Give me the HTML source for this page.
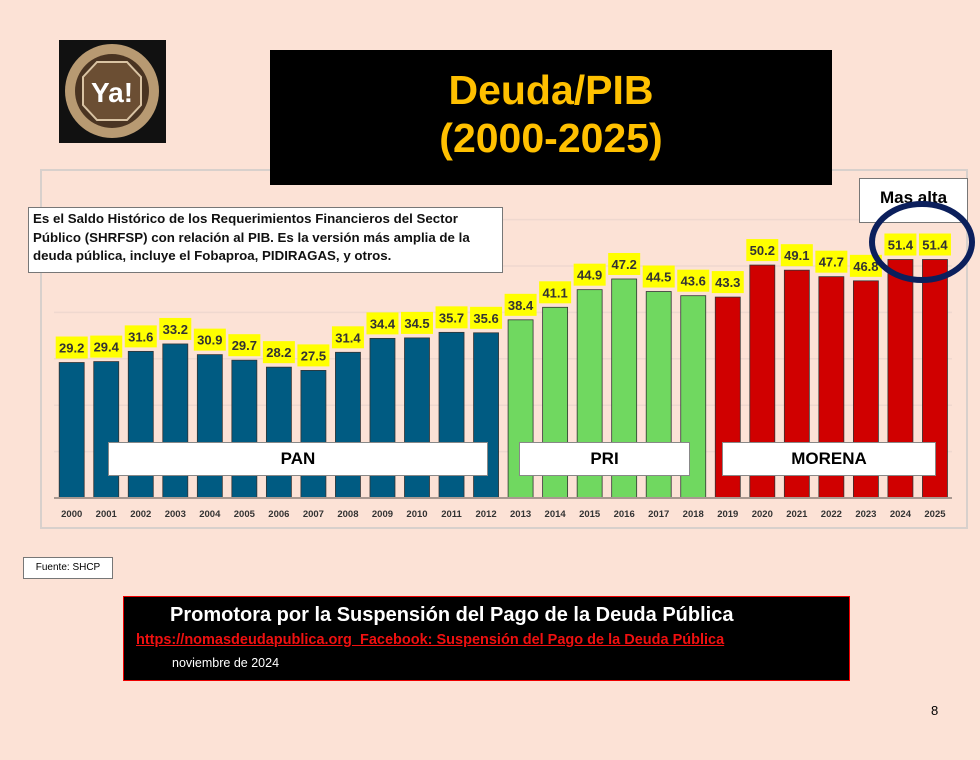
<!DOCTYPE html>
<html><head><meta charset="utf-8"><style>
body{margin:0;width:980px;height:760px;background:#fce2d6;position:relative;overflow:hidden;font-family:"Liberation Sans",sans-serif}
.abs{position:absolute}
</style></head><body>
<svg class="abs" style="left:0;top:0" width="980" height="760" id="chart"></svg>
<div class="abs" style="left:59px;top:40px;width:107px;height:103px;background:#111">
<svg width="107" height="103"><circle cx="53" cy="51" r="47" fill="#b89a72"/><circle cx="53" cy="51" r="37" fill="#4a3422"/><polygon points="38,22 68,22 82,37 82,65 68,80 38,80 24,65 24,37" fill="#6b4e33" stroke="#d9c3a3" stroke-width="2"/><text x="53" y="62" font-size="28" font-weight="bold" fill="#fff" text-anchor="middle" font-family="Liberation Sans">Ya!</text></svg></div>
<div class="abs" style="left:270px;top:50px;width:562px;height:135px;background:#000;color:#ffc000;font-weight:bold;font-size:41px;text-align:center;line-height:48px;padding-top:16px;box-sizing:border-box">Deuda/PIB<br>(2000-2025)</div>
<div class="abs" style="left:28px;top:207px;width:475px;height:66px;background:#fff;border:1px solid #777;box-sizing:border-box;font-size:13.3px;font-weight:bold;line-height:18.5px;padding:2px 4px;color:#111">Es el Saldo Histórico de los Requerimientos Financieros del Sector Público (SHRFSP) con relación al PIB. Es la versión más amplia de la deuda pública, incluye el Fobaproa, PIDIRAGAS, y otros.</div>
<div class="abs" style="left:859px;top:178px;width:109px;height:45px;background:#fff;border:1px solid #777;box-sizing:border-box;font-size:17px;font-weight:bold;text-align:center;padding-top:9px">Mas alta</div>
<svg class="abs" style="left:0;top:0" width="980" height="760"><ellipse cx="922" cy="242" rx="50" ry="38" fill="none" stroke="#0b1f5c" stroke-width="6"/></svg>
<div class="abs" style="left:108px;top:442px;width:380px;height:34px;background:#fff;border:1px solid #888;box-sizing:border-box;font-size:17px;font-weight:bold;text-align:center;line-height:32px">PAN</div>
<div class="abs" style="left:519px;top:442px;width:171px;height:34px;background:#fff;border:1px solid #888;box-sizing:border-box;font-size:17px;font-weight:bold;text-align:center;line-height:32px">PRI</div>
<div class="abs" style="left:722px;top:442px;width:214px;height:34px;background:#fff;border:1px solid #888;box-sizing:border-box;font-size:17px;font-weight:bold;text-align:center;line-height:32px">MORENA</div>
<div class="abs" style="left:23px;top:557px;width:90px;height:22px;background:#fff;border:1px solid #777;box-sizing:border-box;font-size:10px;text-align:center;line-height:20px">Fuente: SHCP</div>
<div class="abs" style="left:123px;top:596px;width:727px;height:85px;background:#000;border:1px solid #e00;box-sizing:border-box">
<div style="color:#fff;font-weight:bold;font-size:20px;position:absolute;left:46px;top:7px">Promotora por la Suspensión del Pago de la Deuda Pública</div>
<div style="color:#f01010;font-weight:bold;font-size:14.5px;position:absolute;left:12px;top:35px;text-decoration:underline">https://nomasdeudapublica.org&nbsp;&nbsp;Facebook: Suspensión del Pago de la Deuda Pública</div>
<div style="color:#fff;font-size:12.5px;position:absolute;left:48px;top:59px">noviembre de 2024</div></div>
<div class="abs" style="left:931px;top:703px;font-size:13px">8</div>
<script>
const years=["2000","2001","2002","2003","2004","2005","2006","2007","2008","2009","2010","2011","2012","2013","2014","2015","2016","2017","2018","2019","2020","2021","2022","2023","2024","2025"];
const values=[29.2,29.4,31.6,33.2,30.9,29.7,28.2,27.5,31.4,34.4,34.5,35.7,35.6,38.4,41.1,44.9,47.2,44.5,43.6,43.3,50.2,49.1,47.7,46.8,51.4,51.4];
const parties=["PAN","PAN","PAN","PAN","PAN","PAN","PAN","PAN","PAN","PAN","PAN","PAN","PAN","PRI","PRI","PRI","PRI","PRI","PRI","MORENA","MORENA","MORENA","MORENA","MORENA","MORENA","MORENA"];
const gridTicks=[10,20,30,40,50,60];
const colors={PAN:"#005b82",PRI:"#70d860",MORENA:"#d00000"};
const NS="http://www.w3.org/2000/svg";
const svg=document.getElementById('chart');
const y0=498,k=4.64;
const yS=v=>y0-v*k;
const xS=i=>71.7+i*34.53;
function mk(t,a){const e=document.createElementNS(NS,t);for(const n in a)e.setAttribute(n,a[n]);svg.appendChild(e);return e;}
const fr=mk('rect',{x:41,y:170,width:926,height:358,fill:'none',stroke:'#d8d0cc','stroke-width':2});


gridTicks.forEach(g=>{const l=mk('line',{x1:54,x2:952,y1:yS(g),y2:yS(g),stroke:'#efd8cf','stroke-width':1.5});

});
values.forEach((v,i)=>{
const x=xS(i);
const b=mk('rect',{x:x-12.5,y:yS(v),width:25,height:v*k,fill:colors[parties[i]],stroke:'#333','stroke-width':0.8});


const lb=mk('rect',{x:x-16,y:yS(v)-26,width:32,height:22,fill:'#ffff00'});


const t=mk('text',{x:x,y:yS(v)-10,'text-anchor':'middle','font-size':13,'font-weight':'bold',fill:'#333','font-family':'Liberation Sans'});
t.textContent=v.toFixed(1);


const yt=mk('text',{x:x,y:517,'text-anchor':'middle','font-size':9.5,'font-weight':'bold',fill:'#333','font-family':'Liberation Sans'});
yt.textContent=years[i];


});
const ax=mk('line',{x1:54,x2:952,y1:y0,y2:y0,stroke:'#a89890','stroke-width':2});


</script>
</body></html>
